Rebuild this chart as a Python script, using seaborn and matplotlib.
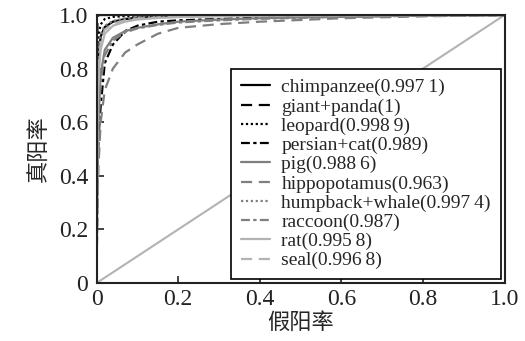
"""ROC curves for ten animal classes."""

import matplotlib
matplotlib.use("Agg")
import matplotlib.pyplot as plt
import seaborn as sns

# shared false positive rate grid
fpr = [0, 0.002, 0.005, 0.01, 0.02, 0.04, 0.07, 0.1, 0.15, 0.2, 0.3, 0.4, 0.6, 0.8, 1.0]

tpr_chimpanzee = [0, 0.70, 0.85, 0.92, 0.955, 0.975, 0.985, 0.99, 0.993, 0.995, 0.997, 0.998, 0.999, 1.0, 1.0]
tpr_giant_panda = [0, 0.99, 1.0, 1.0, 1.0, 1.0, 1.0, 1.0, 1.0, 1.0, 1.0, 1.0, 1.0, 1.0, 1.0]
tpr_leopard = [0, 0.85, 0.93, 0.965, 0.985, 0.993, 0.996, 0.998, 0.999, 1.0, 1.0, 1.0, 1.0, 1.0, 1.0]
tpr_persian_cat = [0, 0.40, 0.55, 0.66, 0.82, 0.89, 0.94, 0.96, 0.975, 0.98, 0.985, 0.99, 0.995, 0.998, 1.0]
tpr_pig = [0, 0.45, 0.62, 0.78, 0.87, 0.915, 0.94, 0.952, 0.965, 0.975, 0.983, 0.988, 0.994, 0.998, 1.0]
tpr_hippopotamus = [0, 0.30, 0.45, 0.60, 0.72, 0.80, 0.86, 0.89, 0.93, 0.952, 0.966, 0.975, 0.988, 0.995, 1.0]
tpr_humpback_whale = [0, 0.75, 0.87, 0.93, 0.96, 0.978, 0.987, 0.991, 0.994, 0.996, 0.997, 0.998, 0.999, 1.0, 1.0]
tpr_raccoon = [0, 0.42, 0.60, 0.75, 0.85, 0.905, 0.935, 0.95, 0.963, 0.972, 0.98, 0.986, 0.993, 0.997, 1.0]
tpr_rat = [0, 0.60, 0.78, 0.87, 0.93, 0.96, 0.975, 0.983, 0.989, 0.992, 0.995, 0.997, 0.999, 1.0, 1.0]
tpr_seal = [0, 0.65, 0.82, 0.90, 0.945, 0.968, 0.98, 0.987, 0.991, 0.994, 0.996, 0.998, 0.999, 1.0, 1.0]

labels = [
    "chimpanzee(0.997\u20091)",
    "giant+panda(1)",
    "leopard(0.998\u20099)",
    "persian+cat(0.989)",
    "pig(0.988\u20096)",
    "hippopotamus(0.963)",
    "humpback+whale(0.997\u20094)",
    "raccoon(0.987)",
    "rat(0.995\u20098)",
    "seal(0.996\u20098)",
]
tprs = [
    tpr_chimpanzee, tpr_giant_panda, tpr_leopard, tpr_persian_cat, tpr_pig,
    tpr_hippopotamus, tpr_humpback_whale, tpr_raccoon, tpr_rat, tpr_seal,
]

colors = ["black"] * 4 + ["#7f7f7f"] * 4 + ["#b3b3b3"] * 2
styles = ["-", (0, (5, 3)), (0, (1, 1.2)), (0, (4, 1.5, 1.5, 1.5)),
          "-", (0, (5, 3)), (0, (1, 1.2)), (0, (4, 1.5, 1.5, 1.5)),
          "-", (0, (5, 3))]

sns.set_theme(style="white")
plt.rcParams["font.family"] = ["Liberation Serif", "Noto Sans CJK SC"]

fig = plt.figure(figsize=(5.25, 3.41), dpi=100)
ax = fig.add_axes([0.184, 0.17, 0.777, 0.786])

# chance line
sns.lineplot(x=[0, 1], y=[0, 1], ax=ax, color="#b3b3b3", linewidth=1.5,
             estimator=None, sort=False)

for tpr, lab, col, ls in zip(tprs, labels, colors, styles):
    sns.lineplot(x=fpr, y=tpr, ax=ax, color=col, linestyle=ls, linewidth=1.6,
                 label=lab, estimator=None, sort=False)

ax.set_xlim(0, 1)
ax.set_ylim(0, 1)
ax.set_xticks([0, 0.2, 0.4, 0.6, 0.8, 1.0])
ax.set_yticks([0, 0.2, 0.4, 0.6, 0.8, 1.0])
ax.set_xticklabels(["0", "0.2", "0.4", "0.6", "0.8", "1.0"])
ax.set_yticklabels(["0", "0.2", "0.4", "0.6", "0.8", "1.0"])
ax.tick_params(direction="in", length=5, width=1.2, colors="#222222",
               labelsize=17, bottom=True, left=True, labelcolor="#222222")
ax.tick_params(axis="y", pad=6)
ax.tick_params(axis="x", pad=4)

for sp in ax.spines.values():
    sp.set_color("#222222")
    sp.set_linewidth(1.5)

ax.set_xlabel("假阳率", fontsize=16, family=["Noto Sans CJK SC"], labelpad=1)
ax.set_ylabel("真阳率", fontsize=16, family=["Noto Sans CJK SC"], labelpad=6)

leg = ax.legend(loc="lower right", fontsize=14, frameon=True, fancybox=False,
                edgecolor="black", framealpha=1, handlelength=1.5,
                labelspacing=0.08, borderpad=0.5, borderaxespad=0.2,
                handletextpad=0.6)
leg.get_frame().set_linewidth(1.2)

fig.savefig("out.png", dpi=100)
